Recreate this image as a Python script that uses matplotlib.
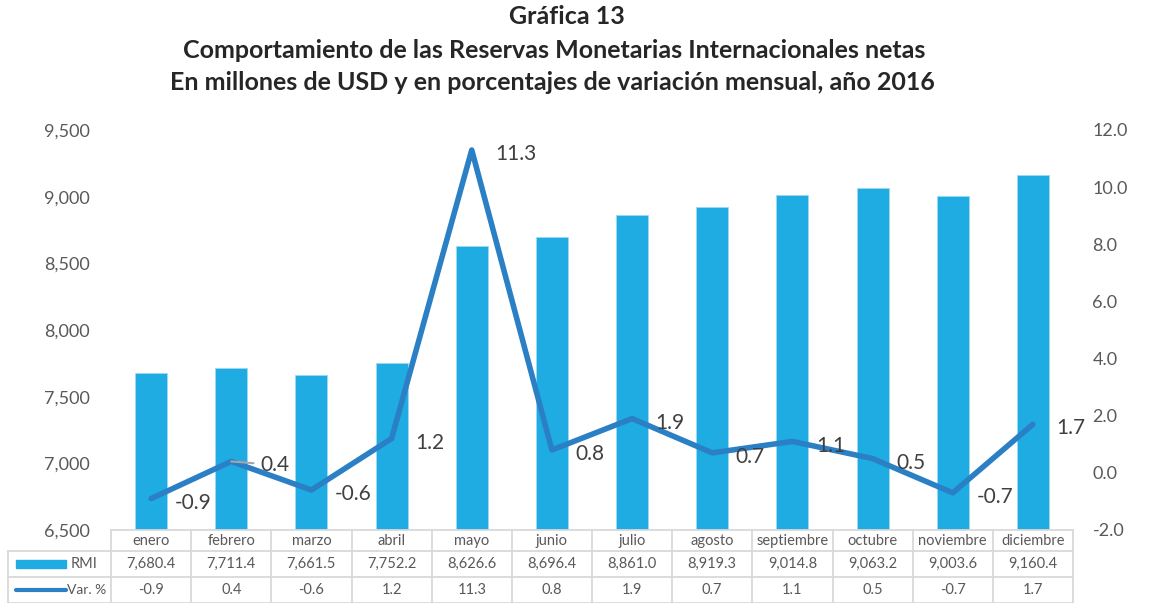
import matplotlib.pyplot as plt
from matplotlib.patches import Rectangle
from matplotlib.lines import Line2D
import numpy as np

plt.rcParams['font.family'] = ['Lato', 'DejaVu Sans']

# Data
meses = ['enero', 'febrero', 'marzo', 'abril', 'mayo', 'junio', 'julio',
         'agosto', 'septiembre', 'octubre', 'noviembre', 'diciembre']
rmi = [7680.4, 7711.4, 7661.5, 7752.2, 8626.6, 8696.4, 8861.0,
       8919.3, 9014.8, 9063.2, 9003.6, 9160.4]
var_pct = [-0.9, 0.4, -0.6, 1.2, 11.3, 0.8, 1.9, 0.7, 1.1, 0.5, -0.7, 1.7]

bar_color = '#1EACE3'
line_color = '#2B80C5'
grid_color = '#D9D9D9'
text_color = '#595959'

W, H = 1149, 603
fig = plt.figure(figsize=(W / 100, H / 100), dpi=100)
ax = fig.add_axes([111 / W, 73 / H, 962 / W, 400 / H])
ax2 = ax.twinx()

x = np.arange(len(meses))
ax.bar(x, rmi, width=0.4, color=bar_color, edgecolor='#9ED8F0', linewidth=0.6, zorder=2)
ax.set_ylim(6500, 9500)
ax.set_xlim(-0.5, len(meses) - 0.5)
ax.set_yticks(np.arange(6500, 9501, 500))
ax.set_yticklabels([f'{v:,.0f}' for v in np.arange(6500, 9501, 500)])
ax.set_xticks([])

ax2.plot(x, var_pct, color=line_color, linewidth=4, solid_joinstyle='round',
         solid_capstyle='round', zorder=3)
ax2.set_ylim(-2, 12)
ax2.set_yticks(np.arange(-2, 12.1, 2))
ax2.set_yticklabels([f'{v:.1f}' for v in np.arange(-2, 12.1, 2)])

for a in (ax, ax2):
    for s in a.spines.values():
        s.set_visible(False)
    a.tick_params(axis='y', length=0, labelsize=13, colors=text_color)
ax.tick_params(axis='y', pad=15)
ax2.tick_params(axis='y', pad=14)

# data labels
for i, v in enumerate(var_pct):
    if i == 1:
        ax2.annotate(f'{v:.1f}', (i, v), xytext=(21, -2.5), textcoords='offset points',
                     ha='left', va='center', fontsize=15, color='#404040',
                     arrowprops=dict(arrowstyle='-', color='#A6A6A6', lw=1.5,
                                     shrinkA=3, shrinkB=0))
    else:
        ax2.annotate(f'{v:.1f}', (i, v), xytext=(17, -3), textcoords='offset points',
                     ha='left', va='center', fontsize=15, color='#404040')

# Titles
title_kw = dict(ha='center', va='center', fontsize=18, fontweight='bold', color='#262626')
fig.text(567 / W, 1 - 17 / H, 'Gráfica 13', **title_kw)
fig.text(554 / W, 1 - 50 / H, 'Comportamiento de las Reservas Monetarias Internacionales netas',
         **title_kw)
fig.text(552 / W, 1 - 83 / H, 'En millones de USD y en porcentajes de variación mensual, año 2016',
         **title_kw)

# Data table below the axes (drawn in figure pixel coords)
def fx(px):
    return px / W

def fy(py):
    return 1 - py / H

col_w = 962 / 12
left_tab = 8
x0 = 111
rows_y = [530, 551, 577, 603]
lw = 1.3
fs_tab = 10.5
# horizontal lines
fig.add_artist(Line2D([fx(x0), fx(1073)], [fy(530), fy(530)], color=grid_color, lw=lw))
for yy in rows_y[1:]:
    fig.add_artist(Line2D([fx(left_tab), fx(1073)], [fy(yy), fy(yy)], color=grid_color, lw=lw))
# vertical lines
fig.add_artist(Line2D([fx(left_tab), fx(left_tab)], [fy(551), fy(603)], color=grid_color, lw=lw))
for k in range(13):
    xx = x0 + k * col_w
    fig.add_artist(Line2D([fx(xx), fx(xx)], [fy(530), fy(603)], color=grid_color, lw=lw))

for k, m in enumerate(meses):
    cx = fx(x0 + (k + 0.5) * col_w)
    fig.text(cx, fy(541), m, ha='center', va='center', fontsize=fs_tab, color=text_color)
    fig.text(cx, fy(564), f'{rmi[k]:,.1f}', ha='center', va='center', fontsize=fs_tab, color=text_color)
    fig.text(cx, fy(590), f'{var_pct[k]:.1f}', ha='center', va='center', fontsize=fs_tab, color=text_color)

# legend keys in row header
fig.add_artist(Rectangle((fx(16), fy(568)), fx(66) - fx(16), fy(560) - fy(568),
                         transform=fig.transFigure, color=bar_color))
fig.text(fx(97), fy(564), 'RMI', ha='right', va='center', fontsize=fs_tab, color=text_color)
fig.add_artist(Line2D([fx(16), fx(66)], [fy(590), fy(590)], color=line_color, lw=3,
                      solid_capstyle='round'))
fig.text(fx(106), fy(590), 'Var. %', ha='right', va='center', fontsize=fs_tab - 0.5, color=text_color)

fig.savefig('out.png', dpi=100)
